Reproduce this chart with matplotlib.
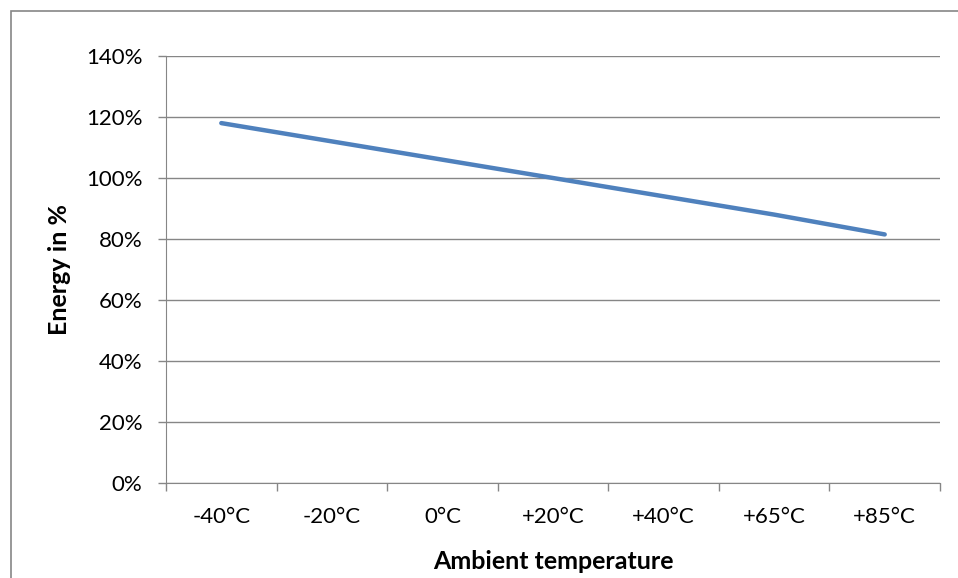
import numpy as np
import matplotlib
matplotlib.use("Agg")
import matplotlib.pyplot as plt
from matplotlib.patches import Rectangle
from matplotlib.ticker import FuncFormatter, FixedLocator

plt.rcParams['font.family'] = ['Lato', 'DejaVu Sans']

temps = ['-40°C', '-20°C', '0°C', '+20°C', '+40°C', '+65°C', '+85°C']
energy = [118, 112, 106, 100, 94, 88, 81.5]

grey = '#868686'

fig = plt.figure(figsize=(9.58, 5.78), dpi=100)
ax = fig.add_axes([0.1733, 0.1644, 0.8079, 0.7387])

x = np.arange(len(temps))
ax.plot(x, energy, color='#4F81BD', lw=3.2, solid_capstyle='round')

ax.set_xlim(-0.5, len(temps) - 0.5)
ax.set_ylim(0, 140)
ax.set_yticks(np.arange(0, 141, 20))
ax.yaxis.set_major_formatter(FuncFormatter(lambda v, p: f'{v:.0f}%'))
ax.grid(axis='y', color=grey, lw=1)
ax.set_axisbelow(True)

# category labels centred, tick marks between categories
ax.set_xticks(x)
ax.set_xticklabels(temps)
ax.tick_params(axis='x', which='major', length=0, pad=17, labelsize=16)
ax.xaxis.set_minor_locator(FixedLocator(np.arange(-0.5, len(temps), 1)))
ax.tick_params(axis='x', which='minor', length=6, color=grey, width=1)
ax.tick_params(axis='y', length=6, color=grey, width=1, labelsize=16, pad=11)

for s in ['top', 'right']:
    ax.spines[s].set_visible(False)
for s in ['left', 'bottom']:
    ax.spines[s].set_color(grey)

ax.set_xlabel('Ambient temperature', fontsize=18, fontweight='bold', labelpad=17)
ax.set_ylabel('Energy in %', fontsize=18, fontweight='bold', labelpad=11)

# outer chart border
fig.patches.append(Rectangle((11 / 958, -0.01), 1.1, 1 - 11 / 578 + 0.01,
                             transform=fig.transFigure, fill=False,
                             edgecolor=grey, lw=1.2))

fig.savefig('out.png', dpi=100)
